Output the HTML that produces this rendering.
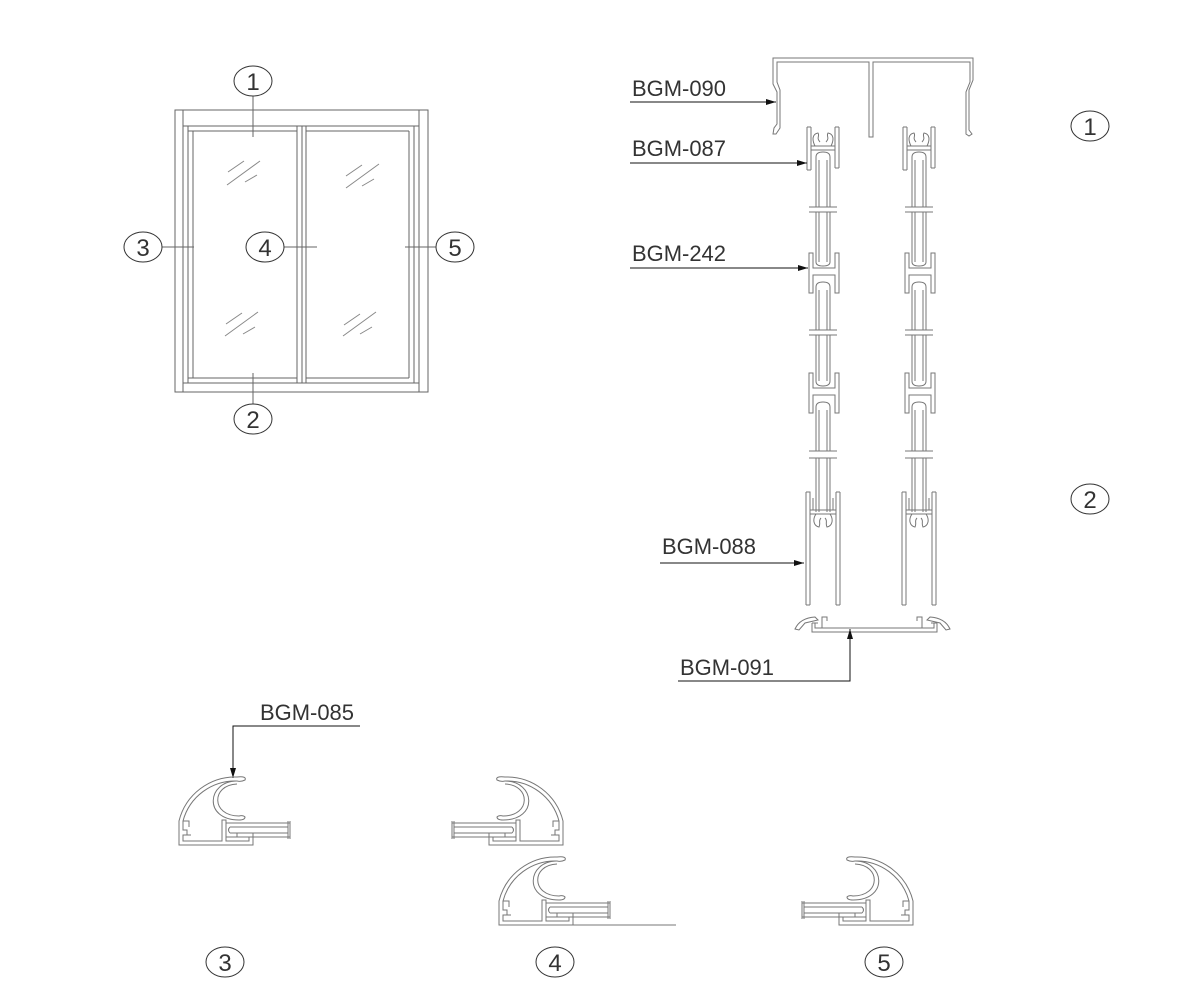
<!DOCTYPE html>
<html><head><meta charset="utf-8"><style>
html,body{margin:0;padding:0;background:#fff;}
svg{display:block}
text{font-family:"Liberation Sans Narrow","Liberation Sans",sans-serif;fill:#333;font-weight:normal;}
</style></head><body>
<svg width="1200" height="1000" viewBox="0 0 1200 1000" xmlns="http://www.w3.org/2000/svg">
<defs>
 <marker id="ar" markerWidth="10" markerHeight="6" refX="10" refY="3" orient="auto" markerUnits="userSpaceOnUse">
  <path d="M0,0 L10,3 L0,6 z" fill="#111"/>
 </marker>
 <g id="col">
  <path d="M807,127 L807,170 M811,127 L811,170 M807,127 L811,127 M807,170 L811,170
           M835,127 L835,168 M839,127 L839,168 M835,127 L839,127 M835,168 L839,168
           M811,146 L835,146 M811,150 L835,150
           M815,146 C812,140 812,134 818,133 C820,136 816,138 820,142 M831,146 C834,140 834,134 828,133 C826,136 830,138 826,142" />
  <path d="M816,207 L816,157 Q816,152 823,152 Q830,152 830,157 L830,207 M819,207 L819,160 M827,207 L827,160"/>
  <path d="M809,207 L837,207 M809,212 L837,212"/>
  <path d="M816,212 L816,262 Q816,266 823,266 Q830,266 830,262 L830,212 M819,212 L819,262 M827,212 L827,262"/>
  <path d="M809,253 L809,293 L813,293 L813,275 L835,275 L835,293 L839,293 L839,253 L835,253 L835,268 L813,268 L813,253 Z"/>
  <path d="M816,330 L816,287 Q816,282 823,282 Q830,282 830,287 L830,330 M819,330 L819,290 M827,330 L827,290"/>
  <path d="M809,330 L837,330 M809,335 L837,335"/>
  <path d="M816,335 L816,381 Q816,386 823,386 Q830,386 830,381 L830,335 M819,335 L819,381 M827,335 L827,381"/>
  <path d="M809,373 L809,413 L813,413 L813,395 L835,395 L835,413 L839,413 L839,373 L835,373 L835,388 L813,388 L813,373 Z"/>
  <path d="M816,451 L816,407 Q816,402 823,402 Q830,402 830,407 L830,451 M819,451 L819,410 M827,451 L827,410"/>
  <path d="M809,451 L837,451 M809,458 L837,458"/>
  <path d="M816,458 L816,512 M830,458 L830,512 M819,458 L819,512 M827,458 L827,512"/>
  <path d="M806,492 L806,605 M810,498 L810,605 M806,605 L810,605 M806,492 L810,492 L810,498
           M836,492 L836,605 M840,492 L840,605 M836,605 L840,605 M836,492 L840,492
           M810,510 L836,510 M810,514 L836,514 M813,498 L813,510 M833,498 L833,510
           M816,514 C812,520 814,526 819,527 C821,523 818,521 821,518 M830,514 C834,520 832,526 827,527 C825,523 828,521 825,518"/>
 </g>
 <g id="prof">
  <path d="M2,70 L2,46 A58,58 0 0 1 60,2 Q70,1 68,5 Q64,7 60,6 A54,54 0 0 0 6,46 L6,55 L10,55 L10,60 L6,60 L6,66 L45,66 L45,45 L49,45 L49,66 L72,66 L72,62 L60,62 L60,58 L76,58 L76,70 Z"/>
  <path d="M60,6 C30,6 26,45 62,45 Q68,45 68,42 Q66,40 62,41 C34,41 34,10 60,9"/>
  <path d="M6,46 L12,46 L12,52 M10,60 L14,60"/>
  <path d="M49,48 L113,48 M53,52 L111,52 M53,58 L111,58 M49,62 L113,62 M53,52 Q50,55 53,58 M111,46 L111,64 M113,46 L113,64"/>
 </g>
</defs>

<g fill="none" stroke="#666" stroke-width="1">
 <rect x="175" y="110" width="253" height="282"/>
 <line x1="183" y1="110" x2="183" y2="392"/>
 <line x1="419" y1="110" x2="419" y2="392"/>
 <line x1="183" y1="126" x2="419" y2="126"/>
 <line x1="183" y1="383" x2="419" y2="383"/>
 <rect x="188" y="126" width="109" height="257"/>
 <line x1="188" y1="131" x2="297" y2="131"/>
 <line x1="188" y1="378" x2="297" y2="378"/>
 <line x1="193" y1="131" x2="193" y2="378"/>
 <line x1="302" y1="126" x2="302" y2="383"/>
 <rect x="306" y="126" width="108" height="257"/>
 <line x1="306" y1="131" x2="409" y2="131"/>
 <line x1="306" y1="378" x2="409" y2="378"/>
 <line x1="409" y1="131" x2="409" y2="378"/>
 <g stroke="#888">
  <path d="M228,172 L244,161 M227,185 L260,161 M245,182 L257,175"/>
  <path d="M346,176 L362,165 M346,188 L379,164 M362,186 L374,179"/>
  <path d="M226,324 L242,313 M225,336 L258,312 M243,334 L255,327"/>
  <path d="M344,325 L360,314 M343,336 L376,312 M360,334 L372,327"/>
 </g>
 <line x1="253" y1="96" x2="253" y2="137"/>
 <line x1="253" y1="373" x2="253" y2="404"/>
 <line x1="162" y1="247" x2="194" y2="247"/>
 <line x1="284" y1="247" x2="317" y2="247"/>
 <line x1="405" y1="247" x2="436" y2="247"/>
</g>
<g fill="#fff" stroke="#333" stroke-width="1">
 <ellipse cx="253" cy="81" rx="19" ry="15"/>
 <ellipse cx="253" cy="419" rx="19" ry="15"/>
 <ellipse cx="143" cy="247" rx="19" ry="15"/>
 <ellipse cx="265" cy="247" rx="19" ry="15"/>
 <ellipse cx="455" cy="247" rx="19" ry="15"/>
 <ellipse cx="1090" cy="126" rx="19" ry="15"/>
 <ellipse cx="1090" cy="499" rx="19" ry="15"/>
 <ellipse cx="225" cy="962" rx="19" ry="15"/>
 <ellipse cx="555" cy="962" rx="19" ry="15"/>
 <ellipse cx="884" cy="962" rx="19" ry="15"/>
</g>
<g font-size="24" text-anchor="middle">
 <text x="253" y="90">1</text><text x="253" y="428">2</text>
 <text x="143" y="256">3</text><text x="265" y="256">4</text><text x="455" y="256">5</text>
 <text x="1090" y="135">1</text><text x="1090" y="508">2</text>
 <text x="225" y="971">3</text><text x="555" y="971">4</text><text x="884" y="971">5</text>
</g>

<g fill="none" stroke="#777" stroke-width="1">
 <path d="M773,58 L973,58 L973,80 L969,90 L969,130 L972,134 L969,136 L966,134 L966,92 L970,82 L970,62 L873,62 L873,137 L869,137 L869,62 L777,62 L777,82 L780,90 L780,128 L776,134 L773,134 L774,128 L777,124 L777,92 L773,84 Z"/>
 <use href="#col"/>
 <use href="#col" x="96"/>
 <path d="M795,629 Q800,618 815,617 L818,620 L805,623 L799,630 Z"/>
 <path d="M950,629 Q945,618 930,617 L927,620 L940,623 L946,630 Z"/>
 <path d="M812,623 L812,632 L937,632 L937,623 M815,623 L815,628 L934,628 L934,623 M822,628 L822,617 L827,617 L827,621 M922,628 L922,617 L917,617 L917,621 M812,623 L818,623 M931,623 L937,623"/>
</g>
<g fill="none" stroke="#111" stroke-width="1">
 <line x1="630" y1="102" x2="776" y2="102" marker-end="url(#ar)"/>
 <line x1="630" y1="163" x2="807" y2="163" marker-end="url(#ar)"/>
 <line x1="630" y1="268" x2="808" y2="268" marker-end="url(#ar)"/>
 <line x1="660" y1="563" x2="804" y2="563" marker-end="url(#ar)"/>
 <path d="M678,681 L850,681 L850,629" marker-end="url(#ar)"/>
 <path d="M360,726 L233,726 L233,778" marker-end="url(#ar)"/>
</g>
<g font-size="22">
 <text x="632" y="96" textLength="94" lengthAdjust="spacingAndGlyphs">BGM-090</text>
 <text x="632" y="156" textLength="94" lengthAdjust="spacingAndGlyphs">BGM-087</text>
 <text x="632" y="261" textLength="94" lengthAdjust="spacingAndGlyphs">BGM-242</text>
 <text x="662" y="554" textLength="94" lengthAdjust="spacingAndGlyphs">BGM-088</text>
 <text x="680" y="675" textLength="94" lengthAdjust="spacingAndGlyphs">BGM-091</text>
 <text x="260" y="720" textLength="94" lengthAdjust="spacingAndGlyphs">BGM-085</text>
</g>

<g fill="none" stroke="#777" stroke-width="1">
 <use href="#prof" transform="translate(177,775)"/>
 <use href="#prof" transform="translate(565,775) scale(-1,1)"/>
 <use href="#prof" transform="translate(497,855)"/>
 <use href="#prof" transform="translate(915,855) scale(-1,1)"/>
 <line x1="573" y1="925" x2="676" y2="925"/>
</g>
</svg>
</body></html>
